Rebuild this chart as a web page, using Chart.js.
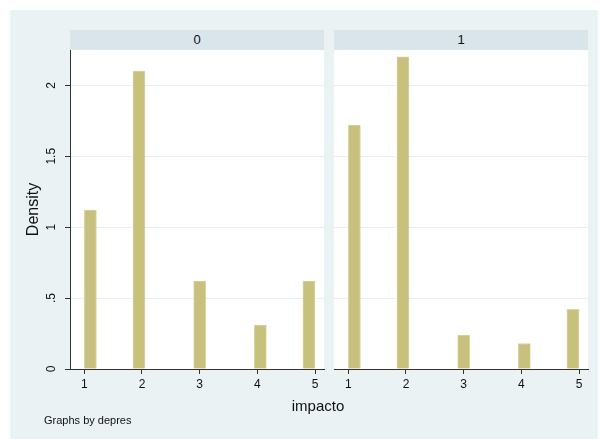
<!DOCTYPE html>
<html>
<head>
<meta charset="utf-8">
<script src="https://cdn.jsdelivr.net/npm/chart.js@4"></script>
<style>
  body { margin: 0; background: #fff; font-family: "Liberation Sans", Arial, sans-serif; }
  #wrap { position: relative; width: 603px; height: 439px; overflow: hidden; }
  #bg { position: absolute; left: 10px; top: 10px; width: 588px; height: 429px; background: #eaf2f3; }
  .strip { position: absolute; top: 30px; height: 20px; width: 254px; background: #d9e5eb;
           font-size: 13px; line-height: 20px; text-align: center; color: #111; }
  .panel { position: absolute; top: 50px; }
  #xtitle { position: absolute; top: 397px; left: 218px; width: 200px; text-align: center; font-size: 15px; color: #111; }
  #note { position: absolute; top: 414px; left: 44px; font-size: 11px; color: #111; }
</style>
</head>
<body>
<div id="wrap">
  <div id="bg"></div>
  <div class="strip" style="left:70px">0</div>
  <div class="strip" style="left:334px">1</div>
  <canvas id="c0" class="panel" style="left:0px"></canvas>
  <canvas id="c1" class="panel" style="left:334px"></canvas>
  <div id="xtitle">impacto</div>
  <div id="note">Graphs by depres</div>
</div>
<script>
// values of impacto (1..5) and the histogram bin each one falls in
var categories = [1, 2, 3, 4, 5];
var binStarts = [1, 1.842, 2.895, 3.947, 4.789];
var binWidth = 0.2105;

// density by group of depres
var density0 = [1.12, 2.10, 0.62, 0.31, 0.62];
var density1 = [1.72, 2.20, 0.24, 0.18, 0.42];

var yTicks = [0, 0.5, 1, 1.5, 2];
var yTickLabels = ["0", ".5", "1", "1.5", "2"];
var xTickLabels = ["1", "2", "3", "4", "5"];

Chart.defaults.font.family = "'Liberation Sans', Arial, sans-serif";
Chart.defaults.color = '#111';

// white plot region behind the bars
var plotBg = {
  id: 'plotBg',
  beforeDraw: function (chart) {
    var a = chart.chartArea, ctx = chart.ctx;
    ctx.save();
    ctx.fillStyle = '#ffffff';
    ctx.fillRect(a.left, a.top, a.right - a.left, a.bottom - a.top);
    ctx.restore();
  }
};

function points(vals) {
  return vals.map(function (v, i) { return { x: binStarts[i] + binWidth / 2, y: v }; });
}

function makePanel(id, vals, withAxis) {
  var cv = document.getElementById(id);
  cv.width = withAxis ? 330 : 260;
  cv.height = 350;
  return new Chart(cv, {
    type: 'bar',
    data: {
      datasets: [{
        data: points(vals),
        backgroundColor: '#c8c17e',
        borderColor: '#d8d39f',
        borderWidth: 1,
        barThickness: 12
      }]
    },
    plugins: [plotBg],
    options: {
      responsive: false,
      animation: false,
      layout: { padding: { left: 0, right: 6, top: 0, bottom: 0 } },
      plugins: { legend: { display: false }, tooltip: { enabled: false } },
      scales: {
        x: {
          type: 'linear',
          min: 0.752,
          max: 5.156,
          offset: false,
          afterBuildTicks: function (s) { s.ticks = categories.map(function (v) { return { value: v }; }); },
          afterFit: function (s) { s.height = 31; s.paddingLeft = 0; s.paddingRight = 0; },
          ticks: {
            font: { size: 12 },
            padding: 3,
            maxRotation: 0,
            callback: function (v) { return xTickLabels[categories.indexOf(v)]; }
          },
          grid: { offset: false, drawOnChartArea: false, tickLength: 5, tickColor: '#333' },
          border: { color: '#333', width: 1 }
        },
        y: {
          min: 0,
          max: 2.249,
          afterBuildTicks: function (s) { s.ticks = yTicks.map(function (v) { return { value: v }; }); },
          afterFit: function (s) { s.width = withAxis ? 70 : 0; s.paddingTop = 0; s.paddingBottom = 0; },
          ticks: {
            display: withAxis,
            font: { size: 12 },
            minRotation: 90,
            maxRotation: 90,
            crossAlign: 'center',
            padding: 5,
            callback: function (v) { return yTickLabels[yTicks.indexOf(v)]; }
          },
          title: {
            display: withAxis,
            text: 'Density',
            font: { size: 16 },
            padding: { top: 24, bottom: 0 }
          },
          grid: { color: '#e6eff1', drawTicks: withAxis, tickLength: 5, tickColor: '#333' },
          border: { display: withAxis, color: '#333', width: 1 }
        }
      }
    }
  });
}

makePanel('c0', density0, true);
makePanel('c1', density1, false);
</script>
</body>
</html>
